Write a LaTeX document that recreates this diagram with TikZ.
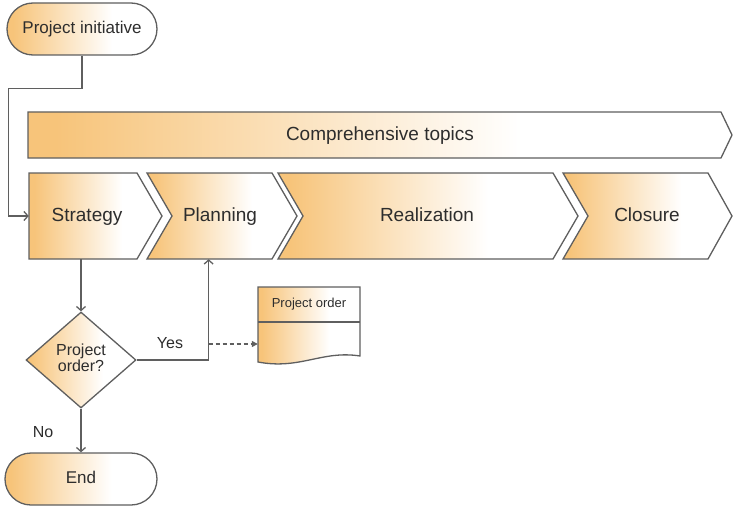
\documentclass[tikz,border=0pt]{standalone}
\usepackage{fontspec}
\setmainfont{Liberation Sans}
\usetikzlibrary{arrows.meta,shapes.misc,shapes.geometric}
\definecolor{ora}{RGB}{247,196,122}
\definecolor{bord}{RGB}{95,95,95}
\definecolor{txt}{RGB}{45,45,45}
\pgfdeclarehorizontalshading{orw}{100bp}{color(0bp)=(ora); color(27bp)=(ora); color(60bp)=(white); color(100bp)=(white)}
\begin{document}
\begin{tikzpicture}[x=1pt,y=-1pt,
  shp/.style={draw=bord, line width=1.3pt, shading=orw},
  big/.style={text=txt, font=\fontsize{19}{22}\selectfont, inner sep=0pt},
  mid/.style={text=txt, font=\fontsize{17}{20}\selectfont, text height=12.5pt, text depth=3.5pt},
  sml/.style={text=txt, font=\fontsize{16}{18}\selectfont},
  chev/.style={big, minimum height=86, text height=14pt, text depth=4pt},
  con/.style={draw=bord, line width=1.3pt},
  arr/.style={con, -{Straight Barb[length=4pt,width=9pt]}}]
\useasboundingbox (0,0) rectangle (733,508);
% comprehensive topics bar
\path[shp] (28,112) -- (721,112) -- (732,135) -- (721,158) -- (28,158) -- cycle;
\node[big, text height=14pt, text depth=4pt] (comp) at (380,135) {Comprehensive topics};
% chevrons
\path[shp] (29,173) -- (137,173) -- (162,216) -- (137,259) -- (29,259) -- cycle;
\path[shp] (147,173) -- (272,173) -- (297,216) -- (272,259) -- (147,259) -- (172,216) -- cycle;
\path[shp] (278,173) -- (553,173) -- (578,216) -- (553,259) -- (278,259) -- (303,216) -- cycle;
\path[shp] (563,173) -- (708,173) -- (732,216) -- (708,259) -- (563,259) -- (588,216) -- cycle;
\node[chev, minimum width=116] (strat) at (87,216) {Strategy};
\node[chev] (plan) at (220,216) {Planning};
\node[chev] (real) at (427,216) {Realization};
\node[chev] (clos) at (647,216) {Closure};
% terminals
\node[shp, mid, rounded rectangle, minimum width=150, minimum height=52, inner sep=0] (init) at (82,29) {Project initiative};
\node[shp, mid, rounded rectangle, minimum width=152, minimum height=52, inner sep=0] (end) at (81,479) {End};
% decision
\node[shp, diamond, aspect=1.15, minimum width=110, minimum height=96, inner sep=0] (dia) at (81,360) {};
\node[sml, align=center, inner sep=0] (diat) at (81,358) {Project\\[-2pt]order?};
% document
\path[shp] (258,287) -- (360,287) -- (360,356) .. controls (322,350) and (300,370) .. (258,362) -- cycle;
\draw[con] (258,322) -- (360,322);
\node[inner sep=0, minimum width=102, minimum height=75] (doc) at (309,324) {};
\node[text=txt, font=\fontsize{13}{15}\selectfont, inner sep=0] (doct) at (309,304) {Project order};
% connectors
\draw[arr] (init.south) -- ++(0,33) -| ([xshift=-20pt]strat.west) -- (strat.west);
\draw[arr] (dia.north |- strat.south) -- (dia.north);
\draw[arr] (dia.south) -- (end.north);
\draw[arr] (dia.east) -- ++(72,0) coordinate (yc) -- (yc |- plan.south);
\draw[con, dash pattern=on 4pt off 3pt, -{Triangle[length=6pt,width=6pt]}] ([yshift=16pt]yc) -- ([yshift=16pt]yc -| doc.west);
\node[sml] (yes) at (170,343) {Yes};
\node[sml] (no) at (43,432) {No};
\end{tikzpicture}
\end{document}
